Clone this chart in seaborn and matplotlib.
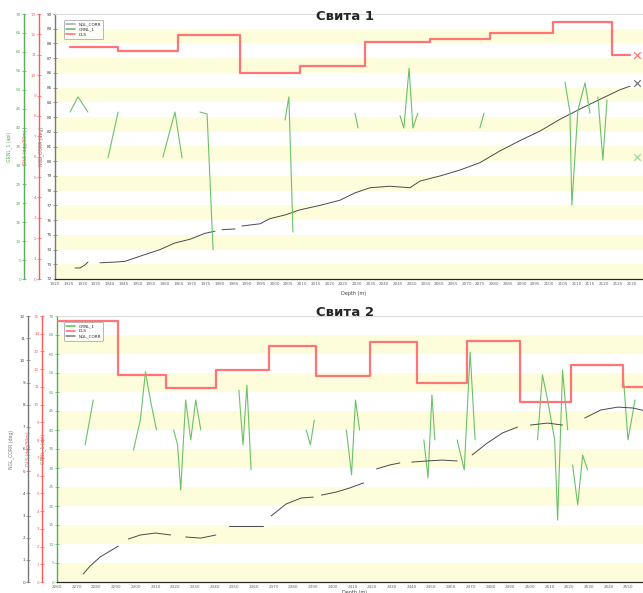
import numpy as np
import pandas as pd
import matplotlib
matplotlib.use("Agg")
import matplotlib.pyplot as plt
import seaborn as sns
from matplotlib.lines import Line2D

sns.set_style("white")
plt.rcParams['font.family'] = ['DejaVu Sans']

nan = np.nan

# ---------------- Свита 1 ----------------
s1_ngl_depth = [1927.3, 1929.1, 1930.9, 1932.0, nan,
                1936.4, 1941.9, 1945.5, 1951.0, 1958.3, 1963.7, 1969.2, 1974.6, 1978.3, nan,
                1980.8, 1985.6, nan,
                1988.1, 1994.7, 1998.3, 2003.8, 2009.3, 2016.5, 2023.8, 2029.3, 2034.8, 2042.0,
                2045.7, 2049.3, 2053.0, 2060.3, 2067.5, 2074.8, 2082.1, 2089.4, 2096.7, 2104.0,
                2111.3, 2118.5, 2125.8, 2129.5]
s1_ngl_val = [72.75, 72.75, 72.95, 73.15, nan,
              73.1, 73.15, 73.2, 73.55, 74.0, 74.45, 74.7, 75.1, 75.25, nan,
              75.35, 75.4, nan,
              75.6, 75.75, 76.1, 76.35, 76.7, 77.0, 77.35, 77.85, 78.2, 78.3,
              78.25, 78.2, 78.65, 79.0, 79.4, 79.9, 80.7, 81.4, 82.05, 82.85,
              83.55, 84.2, 84.85, 85.1]

s1_gr_depth = [1925.5, 1928.4, 1932.0, nan,
               1939.3, 1943.0, nan,
               1959.3, 1963.7, 1966.3, nan,
               1972.8, 1975.4, 1977.6, nan,
               2003.8, 2005.2, 2006.7, nan,
               2029.3, 2030.4, nan,
               2045.7, 2047.1, 2049.0, 2050.4, 2052.2, nan,
               2074.8, 2076.3, nan,
               2105.8, 2107.6, 2108.3, 2110.5, 2113.1, 2114.9, nan,
               2117.8, 2119.6, 2121.1]
s1_gr_val = [44.1, 48.1, 44.1, nan,
             32.0, 44.1, nan,
             32.2, 44.1, 32.0, nan,
             44.1, 43.6, 7.7, nan,
             42.0, 48.1, 12.4, nan,
             43.8, 39.9, nan,
             43.1, 39.9, 55.7, 39.9, 43.8, nan,
             39.9, 43.8, nan,
             52.0, 44.1, 19.5, 44.6, 51.8, 43.8, nan,
             48.1, 31.4, 47.3]

s1_dls_depth = [1925.5, 1943.0, 1964.8, 1987.4, 2009.3, 2032.9, 2056.6, 2078.5, 2101.4, 2122.9, 2129.5]
s1_dls_val = [11.4, 11.2, 11.95, 10.1, 10.45, 11.65, 11.75, 12.05, 12.6, 11.0, 11.0]

s1_last_depth = 2132.0
s1_last_ngl, s1_last_gr, s1_last_dls = 85.3, 32.2, 11.0

s1_xticks = list(range(1920, 2135, 5))
s1_ngl_ticks = list(range(72, 91, 1))
s1_dls_ticks = list(range(0, 14, 1))
s1_gr_ticks = list(range(0, 75, 5))

# ---------------- Свита 2 ----------------
s2_ngl_depth = [2273.3, 2276.8, 2281.9, 2287.0, 2291.1, nan,
                2296.2, 2302.3, 2310.0, 2317.7, nan,
                2325.3, 2333.0, 2340.6, nan,
                2347.2, 2355.9, 2364.6, nan,
                2368.7, 2376.3, 2384.0, 2390.1, nan,
                2394.2, 2401.8, 2408.5, 2415.6, nan,
                2422.2, 2428.9, 2434.0, nan,
                2440.1, 2447.8, 2455.4, 2463.1, nan,
                2470.7, 2478.4, 2486.0, 2493.7, nan,
                2500.3, 2509.0, 2516.6, nan,
                2527.9, 2536.0, 2544.7, 2552.3, 2559.0]
s2_ngl_val = [0.36, 0.72, 1.13, 1.40, 1.62, nan,
              1.94, 2.12, 2.21, 2.12, nan,
              2.03, 1.98, 2.12, nan,
              2.53, 2.53, 2.53, nan,
              2.98, 3.52, 3.79, 3.83, nan,
              3.92, 4.06, 4.24, 4.47, nan,
              5.10, 5.28, 5.37, nan,
              5.41, 5.46, 5.50, 5.46, nan,
              5.73, 6.27, 6.72, 6.99, nan,
              7.08, 7.17, 7.08, nan,
              7.40, 7.76, 7.89, 7.85, 7.71]

s2_gr_depth = [2274.3, 2278.4, nan,
               2298.8, 2302.3, 2304.9, 2307.4, 2310.5, nan,
               2319.2, 2321.2, 2322.8, 2325.3, 2327.9, 2330.4, 2333.0, nan,
               2352.3, 2354.4, 2356.4, 2358.5, nan,
               2386.5, 2388.6, 2390.6, nan,
               2406.9, 2409.5, 2411.5, 2413.6, nan,
               2446.2, 2448.3, 2450.3, 2451.8, nan,
               2463.1, 2466.7, 2469.7, 2472.2, nan,
               2503.9, 2506.4, 2509.0, 2512.6, 2514.1, 2516.6, 2519.2, nan,
               2521.7, 2524.3, 2526.8, 2529.3, nan,
               2547.2, 2549.8, 2553.4]
s2_gr_val = [36.1, 47.9, nan,
             34.7, 42.6, 55.3, 47.9, 40.0, nan,
             40.0, 36.1, 24.2, 47.9, 37.4, 47.9, 40.0, nan,
             50.5, 36.1, 51.8, 29.5, nan,
             40.0, 36.1, 42.6, nan,
             40.0, 28.2, 47.9, 40.0, nan,
             37.4, 27.4, 49.2, 37.4, nan,
             37.4, 29.5, 60.5, 37.4, nan,
             37.4, 54.5, 47.9, 37.4, 16.3, 55.8, 40.0, nan,
             30.8, 20.3, 33.4, 29.5, nan,
             55.8, 37.4, 47.9]

s2_dls_depth = [2260.5, 2291.1, 2315.1, 2340.6, 2367.7, 2391.6, 2418.7, 2442.7, 2468.2, 2495.2, 2520.7, 2547.2, 2559.0]
s2_dls_val = [14.72, 11.68, 10.94, 11.96, 13.31, 11.62, 13.54, 11.22, 13.59, 10.15, 12.24, 11.0, 11.0]

s2_xticks = list(range(2260, 2560, 10))
s2_ngl_ticks = list(range(0, 13, 1))
s2_dls_ticks = list(range(0, 16, 1))
s2_gr_ticks = list(range(0, 75, 5))

C_GR = '#6cc06a'
C_DLS = '#ff7474'
C_NGL = '#4a4a4a'
C_BAND = '#fdfddc'
FS = 3.0
PX = 72 / 100  # points per pixel

W, H = 643, 593
fig = plt.figure(figsize=(W / 100, H / 100), dpi=100)


def seg_df(depth, vals):
    df = pd.DataFrame({'depth': depth, 'val': vals})
    df['seg'] = df['val'].isna().cumsum()
    return df.dropna()


def style_axis(a, color, label, ticks, lim, offset_px, label_x):
    a.set_ylim(*lim)
    a.set_yticks(ticks)
    a.set_yticklabels([str(t) for t in ticks], color=color)
    a.yaxis.set_ticks_position('left')
    a.yaxis.set_label_position('left')
    a.spines['left'].set_visible(True)
    a.spines['left'].set_color(color)
    a.spines['left'].set_linewidth(1.0)
    if offset_px:
        a.spines['left'].set_position(('outward', offset_px * PX))
    for s in ('right', 'top'):
        a.spines[s].set_visible(False)
    a.tick_params(axis='y', labelsize=FS, length=2.5, width=0.5, pad=0.8,
                  direction='inout', colors=color)
    a.set_ylabel(label, fontsize=FS + 0.3, color=color)
    a.yaxis.set_label_coords(label_x, 0.5)


# ---------- panel 1 ----------
ax1 = fig.add_axes([55 / W, 1 - 279 / H, (652 - 55) / W, (279 - 14) / H])
ax1.set_xlim(1920, 2137.5)
r1 = ax1.twinx()
g1 = ax1.twinx()
for a in (r1, g1):
    a.patch.set_visible(False)
for i in range(len(s1_ngl_ticks) - 1):
    if (len(s1_ngl_ticks) - 2 - i) % 2 == 1:
        ax1.axhspan(s1_ngl_ticks[i], s1_ngl_ticks[i + 1], color=C_BAND, lw=0, zorder=0)

sns.lineplot(data=seg_df(s1_ngl_depth, s1_ngl_val), x='depth', y='val', units='seg',
             estimator=None, sort=False, color=C_NGL, lw=0.7, ax=ax1, legend=False)
sns.lineplot(data=seg_df(s1_gr_depth, s1_gr_val), x='depth', y='val', units='seg',
             estimator=None, sort=False, color=C_GR, lw=0.8, ax=g1, legend=False)
sns.lineplot(data=seg_df(s1_dls_depth, s1_dls_val), x='depth', y='val', units='seg',
             estimator=None, sort=False, color=C_DLS, lw=1.6, ax=r1, legend=False,
             drawstyle='steps-post')
sns.scatterplot(x=[s1_last_depth], y=[s1_last_ngl], marker='x', s=22, color='#777777', linewidth=0.9, ax=ax1, legend=False)
sns.scatterplot(x=[s1_last_depth], y=[s1_last_dls], marker='x', s=22, color=C_DLS, linewidth=0.9, ax=r1, legend=False)
sns.scatterplot(x=[s1_last_depth], y=[s1_last_gr], marker='x', s=22, color='#9fd69e', linewidth=0.9, ax=g1, legend=False)

aw1 = 652 - 55
style_axis(ax1, '#777777', 'NGL_CORR (deg)', s1_ngl_ticks, (72, 90), 0, (44 - 55) / aw1)
style_axis(r1, '#ff5a5a', 'DLS (deg/30m)', s1_dls_ticks, (0, 13), 16, (28 - 55) / aw1)
style_axis(g1, '#55b055', 'GRNL_1 (api)', s1_gr_ticks, (0, 70), 31, (12 - 55) / aw1)
ax1.tick_params(axis='y', labelcolor='#444444')
ax1.spines['top'].set_visible(True)
ax1.spines['top'].set_color('#dddddd')
ax1.spines['bottom'].set_color('#999999')
ax1.spines['bottom'].set_linewidth(0.6)
ax1.set_xlim(1920, 2137.5)
ax1.set_xticks(s1_xticks)
ax1.set_xticklabels([str(t) for t in s1_xticks])
ax1.tick_params(axis='x', labelsize=FS, length=2.5, width=0.5, pad=1.2,
                direction='inout', colors='#666666')
ax1.set_xlabel('Depth (m)', fontsize=FS + 0.5, labelpad=3, color='#444444')
for a in (r1, g1):
    a.set_xlabel('')

h1 = [Line2D([], [], color='#aaaaaa', lw=1.2), Line2D([], [], color=C_GR, lw=1.2),
      Line2D([], [], color=C_DLS, lw=1.2)]
leg = g1.legend(h1, ['NGL_CORR', 'GRNL_1', 'DLS'], loc='upper left', fontsize=FS,
                handlelength=2.2, frameon=True, borderpad=0.5, labelspacing=0.3,
                bbox_to_anchor=(0.012, 0.985))
leg.get_frame().set_edgecolor('#999999')
leg.get_frame().set_linewidth(0.6)
fig.text(345 / W, 1 - 16 / H, 'Свита 1', ha='center', va='center', fontsize=9.5,
         fontweight='semibold')

# ---------- panel 2 ----------
ax2 = fig.add_axes([57 / W, 1 - 582 / H, (652 - 57) / W, (582 - 316) / H])
ax2.set_xlim(2260, 2562)
r2 = ax2.twinx()
n2 = ax2.twinx()
for a in (r2, n2):
    a.patch.set_visible(False)
for i in range(len(s2_gr_ticks) - 1):
    if (len(s2_gr_ticks) - 2 - i) % 2 == 1:
        ax2.axhspan(s2_gr_ticks[i], s2_gr_ticks[i + 1], color=C_BAND, lw=0, zorder=0)

sns.lineplot(data=seg_df(s2_gr_depth, s2_gr_val), x='depth', y='val', units='seg',
             estimator=None, sort=False, color=C_GR, lw=0.8, ax=ax2, legend=False)
sns.lineplot(data=seg_df(s2_dls_depth, s2_dls_val), x='depth', y='val', units='seg',
             estimator=None, sort=False, color=C_DLS, lw=1.6, ax=r2, legend=False,
             drawstyle='steps-post')
sns.lineplot(data=seg_df(s2_ngl_depth, s2_ngl_val), x='depth', y='val', units='seg',
             estimator=None, sort=False, color=C_NGL, lw=0.7, ax=n2, legend=False)

aw2 = 652 - 57
style_axis(ax2, '#55b055', 'GRNL_1 (api)', s2_gr_ticks, (0, 70), 0, (46 - 57) / aw2)
style_axis(r2, '#ff5a5a', 'DLS (deg/30m)', s2_dls_ticks, (0, 15), 15, (31 - 57) / aw2)
style_axis(n2, '#777777', 'NGL_CORR (deg)', s2_ngl_ticks, (0, 12), 29, (14 - 57) / aw2)
n2.tick_params(axis='y', labelcolor='#444444')
ax2.spines['top'].set_visible(True)
ax2.spines['top'].set_color('#dddddd')
ax2.spines['bottom'].set_color('#999999')
ax2.spines['bottom'].set_linewidth(0.6)
ax2.set_xlim(2260, 2562)
ax2.set_xticks(s2_xticks)
ax2.set_xticklabels([str(t) for t in s2_xticks])
ax2.tick_params(axis='x', labelsize=FS, length=2.5, width=0.5, pad=1.2,
                direction='inout', colors='#666666')
ax2.set_xlabel('Depth (m)', fontsize=FS + 0.5, labelpad=0.5, color='#444444')
for a in (r2, n2):
    a.set_xlabel('')

h2 = [Line2D([], [], color=C_GR, lw=1.2), Line2D([], [], color=C_DLS, lw=1.2),
      Line2D([], [], color='#888888', lw=1.2)]
leg2 = n2.legend(h2, ['GRNL_1', 'DLS', 'NGL_CORR'], loc='upper left', fontsize=FS,
                 handlelength=2.2, frameon=True, borderpad=0.5, labelspacing=0.3,
                 bbox_to_anchor=(0.008, 0.985))
leg2.get_frame().set_edgecolor('#999999')
leg2.get_frame().set_linewidth(0.6)
fig.text(345 / W, 1 - 312 / H, 'Свита 2', ha='center', va='center', fontsize=9.5,
         fontweight='semibold')

fig.savefig('out.png', dpi=100)
